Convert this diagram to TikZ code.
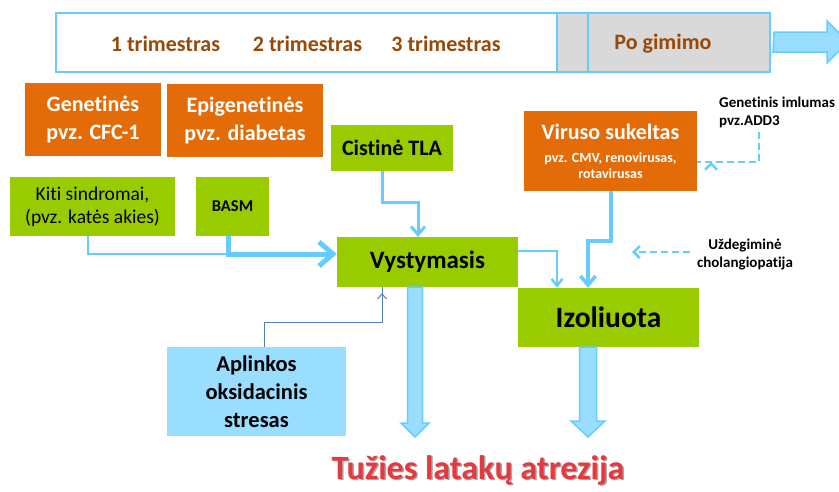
\documentclass[tikz,border=0pt]{standalone}
\usepackage{fontspec}
\setmainfont{Carlito}[Ligatures=CommonOff]
\usetikzlibrary{arrows.meta}
\definecolor{org}{HTML}{E36C09}
\definecolor{grn}{HTML}{99CC00}
\definecolor{lblue}{HTML}{99DDFF}
\definecolor{lineblue}{HTML}{66CCFF}
\definecolor{darkblue}{HTML}{4F81BD}
\definecolor{brn}{HTML}{984807}
\definecolor{gry}{HTML}{D9D9D9}
\definecolor{titlered}{HTML}{E5393F}
\newcommand\fsz[2]{\fontsize{#1}{#2}\selectfont}
\begin{document}
\begin{tikzpicture}[x=1pt,y=-1pt,
  box/.style={inner sep=0pt, align=center},
  orangebox/.style={box, fill=org, text=white},
  greenbox/.style={box, fill=grn, text=black},
  bluebox/.style={box, fill=lblue, text=black},
  lbl/.style={inner sep=0pt, align=center},
  barlbl/.style={lbl, text=brn, font=\bfseries\fsz{22}{26}},
  conn/.style={draw=lineblue, line width=#1, line join=miter},
  dashconn/.style={draw=lineblue, line width=2.5pt, dash pattern=on 7pt off 4pt, -{Straight Barb[length=6pt,width=12pt]}},
  blockarr/.style={fill=lblue, draw=lineblue, line width=1.5pt, line join=miter}
]
\useasboundingbox (0,0) rectangle (839,491);

% timeline
\fill[gry] (557,13) rectangle (770,72);
\node[draw=lineblue, line width=2pt, inner sep=0pt, minimum width=714, minimum height=59] (bar) at (413,42.5) {};
\draw[lineblue, line width=2pt] (557,13) -- (557,72) (588,13) -- (588,72);
\node[barlbl] (t1) at (165.5,44) {1 trimestras};
\node[barlbl] (t2) at (307.5,44) {2 trimestras};
\node[barlbl] (t3) at (446,44) {3 trimestras};
\node[barlbl] (t4) at (663,44) {Po gimimo};
\draw[blockarr] (bar.east |- 0,32) ++(3,0) coordinate (ra) -- (827,32) -- (827,21) -- (848,42) -- (827,63) -- (827,52) -- (773,52) -- cycle;

% boxes
\node[orangebox, minimum width=136, minimum height=73, font=\bfseries\fsz{22}{28}] (gen) at (93,119.5) {Genetinės\\pvz. CFC-1};
\node[orangebox, minimum width=156, minimum height=73, font=\bfseries\fsz{22}{28}] (epi) at (245,120.5) {Epigenetinės\\pvz. diabetas};
\node[greenbox, minimum width=122, minimum height=46, font=\bfseries\fsz{22}{26}] (cist) at (392,148) {Cistinė TLA};
\node[orangebox, minimum width=173, minimum height=80, font=\bfseries\fsz{14}{16}] (vir) at (610.5,151) {{\fsz{22}{22}\selectfont Viruso sukeltas}\\[7pt]pvz. CMV, renovirusas,\\rotavirusas};
\node[greenbox, minimum width=165, minimum height=59, font=\fsz{19.5}{23}] (kiti) at (92.5,206.5) {Kiti sindromai,\\(pvz. katės akies)};
\node[greenbox, minimum width=73, minimum height=59, font=\bfseries\fsz{16.5}{20}] (basm) at (232.5,206.5) {BASM};
\node[greenbox, minimum width=181, minimum height=50, font=\bfseries\fsz{25}{28}] (vyst) at (427.5,262) {Vystymasis};
\node[greenbox, minimum width=181, minimum height=59, font=\bfseries\fsz{29.5}{32}] (izol) at (608.5,317.5) {Izoliuota};
\node[bluebox, minimum width=179, minimum height=89, font=\bfseries\fsz{22.5}{28}] (apl) at (256.5,391.5) {Aplinkos\\oksidacinis\\stresas};

\node[lbl, anchor=west, align=left, font=\bfseries\fsz{15}{18}] (imlum) at (719,112) {Genetinis imlumas\\pvz.ADD3};
\node[lbl, font=\bfseries\fsz{15}{18}] (uzd) at (745,254) {Uždegiminė\\cholangiopatija};

% title
\node[lbl, font=\bfseries\fsz{34}{38}, text=black!35] at (479.5,471.5) {Tužies latakų atrezija};
\node[lbl, font=\bfseries\fsz{34}{38}, text=titlered] (title) at (478,470) {Tužies latakų atrezija};

% connectors
\coordinate (j1) at (228,254);
\draw[conn=2pt] (kiti.south -| 88,0) |- (j1);
\draw[conn=5pt, -{Straight Barb[length=14pt,width=24pt]}] (basm.south -| j1) -- (j1) -- (vyst.west |- j1);
\draw[conn=3pt, -{Straight Barb[length=8pt,width=14pt]}] (cist.south -| 382,0) -- (382,202) -- (418,202) -- (vyst.north -| 418,0);
\draw[conn=2.5pt, -{Straight Barb[length=7pt,width=11pt]}] (vyst.east |- 0,251) -- (557,251) -- (izol.north -| 557,0);
\draw[conn=3.5pt, -{Straight Barb[length=9pt,width=15pt]}] (vir.south -| 611,0) -- (611,241) -- (588,241) -- (izol.north -| 588,0);
\draw[dashconn] (imlum.south -| 759,0) ++(0,4) -- (759,162) -- (vir.east |- 0,162) ++(14,0);
\draw[dashconn] (uzd.west |- 0,252) ++(-7,0) -- (632,252);
\draw[darkblue, line width=1pt, -{Straight Barb[length=5pt,width=9pt]}] (apl.north -| 264,0) -- (264,322) -- (382,322) -- (vyst.south -| 382,0) ++(0,6);

% block arrows
\draw[blockarr] (vyst.south -| 407.5,0) -- (407.5,423) -- (401,423) -- (415,437) -- (429,423) -- (422.5,423) -- (vyst.south -| 422.5,0) -- cycle;
\draw[blockarr] (izol.south -| 579.5,0) -- (579.5,421) -- (571,421) -- (588,437) -- (605,421) -- (596.5,421) -- (izol.south -| 596.5,0) -- cycle;
\end{tikzpicture}
\end{document}
